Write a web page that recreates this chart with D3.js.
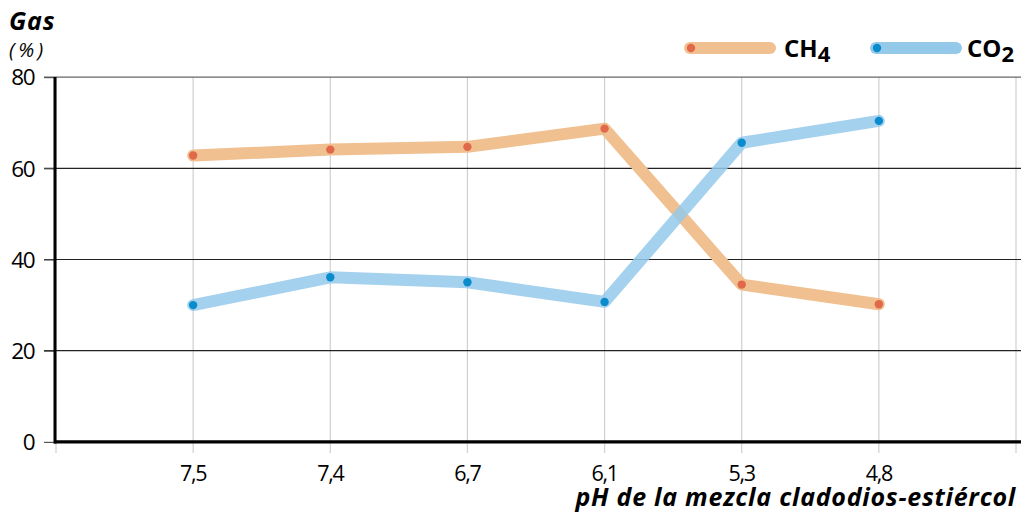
<!DOCTYPE html>
<html><head><meta charset="utf-8">
<script src="https://cdn.jsdelivr.net/npm/d3@7"></script>
<style>
body{margin:0;background:#fff;}
svg text{font-family:"Open Sans","Noto Sans",sans-serif;fill:#000;}
</style></head>
<body><svg id="c" width="1021" height="515"></svg>
<script>
const categories = ["7,5","7,4","6,7","6,1","5,3","4,8"];
const ch4 = [62.8, 64.1, 64.7, 68.7, 34.5, 30.2];
const co2 = [30.0, 36.1, 35.0, 30.7, 65.6, 70.4];
const yTicks = [0,20,40,60,80];
const seriesNames = ["CH4","CO2"];

const svg = d3.select("#c");
const slots = ["", ...categories, " "];
const x = d3.scalePoint().domain(slots).range([56, 1016]);
const y = d3.scaleLinear().domain([0,80]).range([441.9, 77.1]);

// vertical gridlines
svg.append("g").selectAll("line").data(slots).join("line")
  .attr("x1", d=>x(d)).attr("x2", d=>x(d))
  .attr("y1", y(80)).attr("y2", 453)
  .attr("stroke", "#d0d0d0").attr("stroke-width", 1.2);

// horizontal gridlines
svg.append("g").selectAll("line").data(yTicks.filter(t=>t>0)).join("line")
  .attr("x1", 44).attr("x2", 1021)
  .attr("y1", d=>y(d)).attr("y2", d=>y(d))
  .attr("stroke", d=>d===80?"#666":"#222").attr("stroke-width", 1.2);

// y ticks
const yAxis = svg.append("g").attr("transform","translate(55,0)")
  .call(d3.axisLeft(y).tickValues(yTicks).tickSize(11).tickPadding(8).tickFormat(d3.format("d")));
yAxis.select(".domain").remove();
yAxis.selectAll(".tick line").attr("stroke","#555").attr("stroke-width",1.2);
yAxis.selectAll(".tick text").attr("font-size",22.5).attr("dx","-2").attr("dy","0.35em")
  .attr("font-family","Open Sans").style("letter-spacing","-1.5px");

// x tick labels
svg.append("g").selectAll("text").data(categories).join("text")
  .attr("x", d=>x(d)).attr("y", 481).attr("text-anchor","middle")
  .attr("font-size",21.5).style("letter-spacing","-1.3px").text(d=>d);

// axes lines
svg.append("line").attr("x1",55).attr("x2",55).attr("y1",y(80)).attr("y2",y(0)+1.5)
  .attr("stroke","#000").attr("stroke-width",3);
svg.append("line").attr("x1",54).attr("x2",1021).attr("y1",y(0)).attr("y2",y(0))
  .attr("stroke","#000").attr("stroke-width",3.2);

const colors = {CH4:{line:"#f0c090", dot:"#e0694a"}, CO2:{line:"#94c9ea", dot:"#0a8ccc"}};
const line = d3.line().x((d,i)=>x(categories[i])).y(d=>y(d));
const dataSets = {CH4: ch4, CO2: co2};

seriesNames.forEach(s=>{
  svg.append("path").datum(dataSets[s]).attr("d", line)
    .attr("fill","none").attr("stroke", colors[s].line).attr("stroke-width",12)
    .attr("stroke-linejoin","round").attr("stroke-linecap","round")
    .attr("opacity", s==="CO2"?0.85:1);
});
seriesNames.forEach(s=>{
  svg.append("g").selectAll("circle").data(dataSets[s]).join("circle")
    .attr("cx",(d,i)=>x(categories[i])).attr("cy", d=>y(d)).attr("r",4.2)
    .attr("fill", colors[s].dot);
});

// y title
svg.append("text").attr("x",9).attr("y",30).attr("font-size",25).attr("font-weight","bold")
  .attr("font-style","italic").style("letter-spacing","0.8px").text("Gas");
svg.append("text").attr("x",9).attr("y",57).attr("font-size",20)
  .attr("font-style","italic").style("letter-spacing","3.5px").text("(%)");

// x title
svg.append("text").attr("x",1016).attr("y",506).attr("text-anchor","end").attr("font-size",25)
  .attr("font-weight","bold").attr("font-style","italic").style("letter-spacing","0.75px")
  .text("pH de la mezcla cladodios-estiércol");

// legend
const legend = [{s:"CH4", x0:690, lx:784, base:"CH", sub:"4"},{s:"CO2", x0:876, lx:967, base:"CO", sub:"2"}];
legend.forEach(l=>{
  svg.append("line").attr("x1",l.x0).attr("x2",l.x0+80).attr("y1",48).attr("y2",48)
    .attr("stroke",colors[l.s].line).attr("stroke-width",12).attr("stroke-linecap","round");
  svg.append("circle").attr("cx",l.x0+1).attr("cy",48).attr("r",4.2).attr("fill",colors[l.s].dot);
  const t = svg.append("text").attr("x",l.lx).attr("y",57).attr("font-size",24).attr("font-weight","bold");
  t.append("tspan").text(l.base);
  t.append("tspan").attr("dy",5).attr("font-size",22).text(l.sub);
});
</script></body></html>
